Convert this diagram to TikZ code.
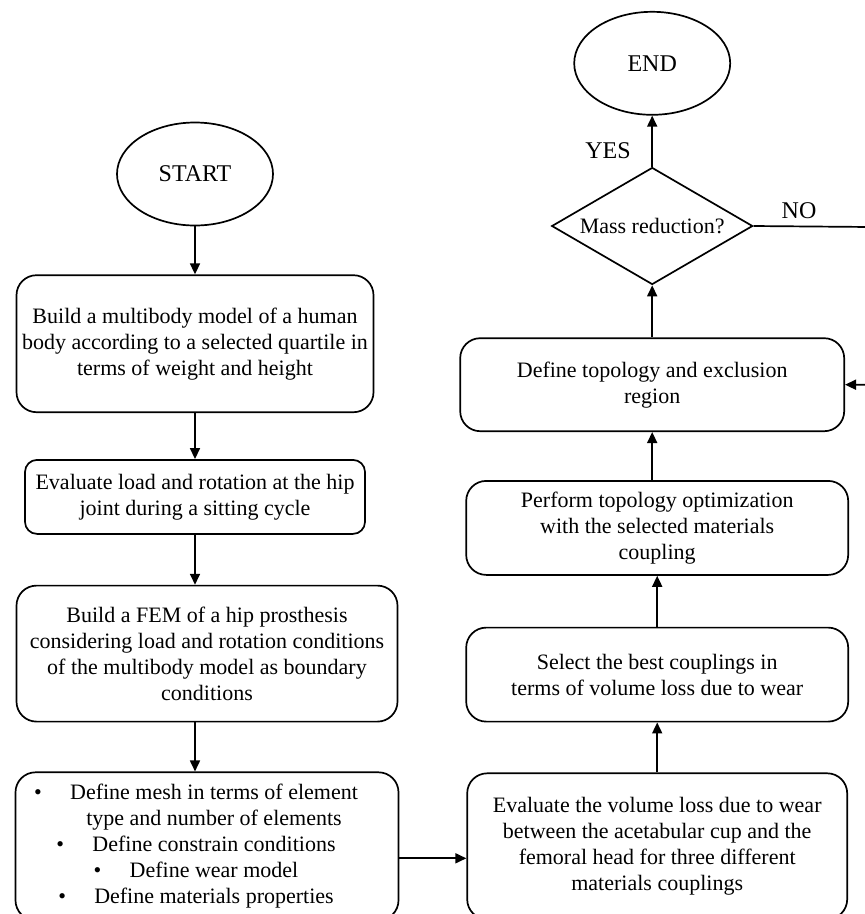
\documentclass[tikz,border=0pt]{standalone}
\usepackage{fontspec}
\setmainfont{Liberation Serif}
\usetikzlibrary{arrows.meta}
\usetikzlibrary{positioning}
\usetikzlibrary{shapes.geometric}

\newcommand{\bul}{\makebox[36pt][l]{\textbullet}}
\newcommand{\bline}[1]{\mbox{#1\hspace*{22pt}}}

\begin{document}
\begin{tikzpicture}

\tikzstyle{every node}=[font=\fontsize{22pt}{26pt}\selectfont]
\tikzstyle{terminal}=[draw, ellipse, line width=1.7pt, inner sep=0pt, minimum width=156pt, minimum height=103pt, font=\fontsize{24pt}{28pt}\selectfont]
\tikzstyle{process}=[draw, rounded corners=20pt, line width=1.7pt, align=center, inner sep=0pt]
\tikzstyle{decision}=[draw, diamond, aspect=1.72, line width=1.7pt, inner sep=0pt, minimum width=201pt, minimum height=117pt]
\tikzstyle{answer}=[font=\fontsize{24pt}{28pt}\selectfont]
\tikzstyle{line}=[draw, line width=1.7pt, -{Triangle[length=11pt, width=10pt]}]

\clip (0,0) rectangle (865pt,-914pt);

\node[terminal] (start) at (195pt,-174pt) {START};

\node[process, below=48pt of start, minimum width=357pt, minimum height=137pt] (multibody) {Build a multibody model of a human\\ body according to a selected quartile in\\ terms of weight and height};
\node[process, below=46pt of multibody, minimum width=340pt, minimum height=74pt, rounded corners=12pt] (hip_load) {Evaluate load and rotation at the hip\\ joint during a sitting cycle};
\node[process, below=50pt of hip_load, xshift=12pt, minimum width=381pt, minimum height=136pt] (fem) {Build a FEM of a hip prosthesis\\ considering load and rotation conditions\\ of the multibody model as boundary\\ conditions};
\node[process, below=49pt of fem, minimum width=383pt, minimum height=148pt] (fem_setup) {\bline{\bul Define mesh in terms of element}\\ \bline{\hspace*{36pt}type and number of elements}\\ \bline{\bul Define constrain conditions}\\ \bline{\bul Define wear model}\\ \bline{\bul Define materials properties}};

\node[process, right=67pt of fem_setup, minimum width=380pt, minimum height=146pt] (wear) {Evaluate the volume loss due to wear\\ between the acetabular cup and the\\ femoral head for three different\\ materials couplings};
\node[process, above=50pt of wear, minimum width=382pt, minimum height=94pt] (best_coupling) {Select the best couplings in\\ terms of volume loss due to wear};
\node[process, above=51pt of best_coupling, minimum width=382pt, minimum height=94pt] (optimization) {Perform topology optimization\\ with the selected materials\\ coupling};
\node[process, above=48pt of optimization, xshift=-5pt, minimum width=384pt, minimum height=93pt] (topology) {Define topology and exclusion\\ region};
\node[decision, above=52pt of topology] (mass) {Mass reduction?};
\node[terminal, above=51pt of mass] (end) {END};

\node[answer] (yes) at (608pt,-151pt) {YES};
\node[answer] (no) at (799pt,-211pt) {NO};
\coordinate (loop) at (870pt,-227pt);

\path[line] (start) -- (multibody);
\path[line] (multibody) -- (hip_load);
\path[line] (hip_load) -- (hip_load |- fem.north);
\path[line] (fem.south -| hip_load) -- (fem_setup.north -| hip_load);
\path[line] ([yshift=-12pt]fem_setup.east) -- ([yshift=-12pt]wear.west);

\path[line] (wear) -- (best_coupling);
\path[line] (best_coupling) -- (optimization);
\path[line] (topology.south |- optimization.north) -- (topology);
\path[line] (topology) -- (mass);
\path[line] (mass) -- (end);
\path[line] (mass.east) -- (loop) |- (topology.east);

\end{tikzpicture}
\end{document}
